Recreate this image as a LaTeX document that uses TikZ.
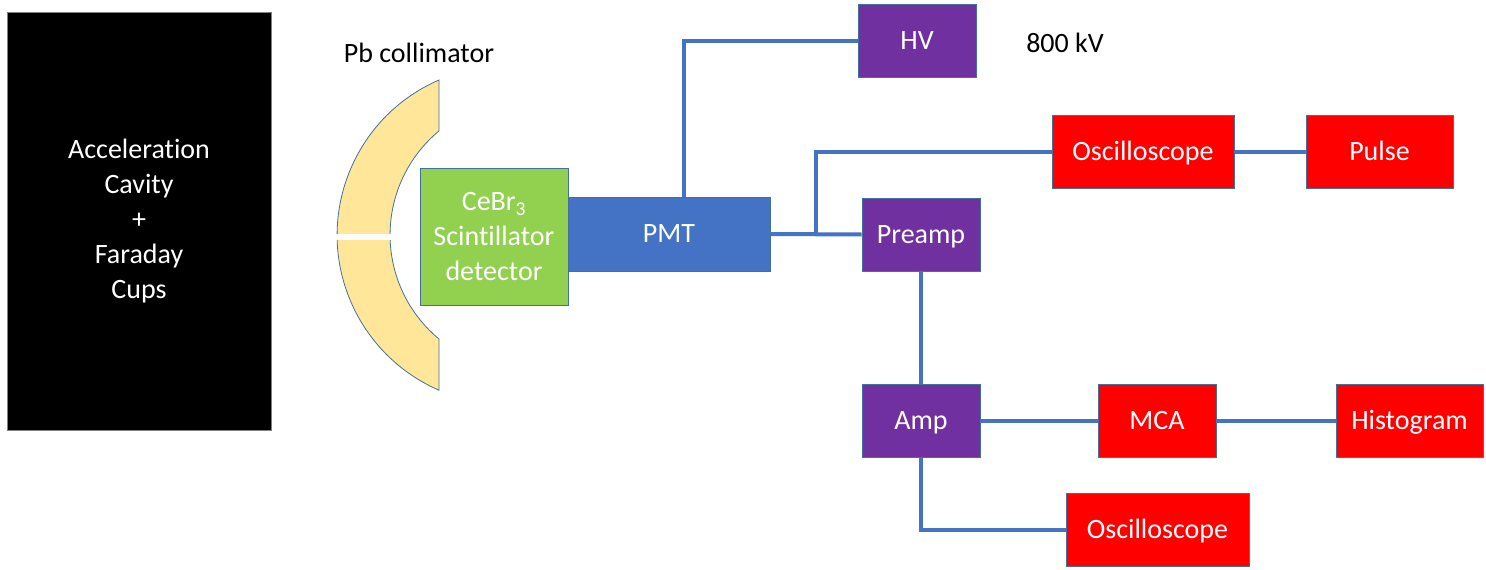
\documentclass[tikz,border=0pt]{standalone}
\usepackage{fontspec}
\setmainfont{Carlito}[Ligatures=NoCommon]
\usetikzlibrary{calc}
\definecolor{wireblue}{HTML}{4472C4}
\definecolor{edgeblue}{HTML}{41719C}
\definecolor{pmtblue}{HTML}{4472C4}
\definecolor{detgreen}{HTML}{92D050}
\definecolor{modpurple}{HTML}{7030A0}
\definecolor{devred}{HTML}{FF0000}
\definecolor{leadyellow}{HTML}{FFE699}

\begin{document}
\begin{tikzpicture}[x=1pt, y=-1pt, font=\fontsize{28}{35}\selectfont,
	box/.style={draw=edgeblue, line width=0.8pt, text=white, inner sep=0pt, align=center},
	oneline/.style={text height=22pt, text depth=5pt},
	wire/.style={draw=wireblue, line width=4pt}]
				\useasboundingbox (0,0) rectangle (1486,570);
				% source
				\node[box, draw=gray, fill=black, minimum width=264pt, minimum height=418pt] (cav) at (139,221)
				{Acceleration\\Cavity\\+\\Faraday\\Cups};
				% lead collimator
				\draw[draw=edgeblue, line width=0.8pt, fill=leadyellow] (439,80)
				arc[start angle=246.6, end angle=113.4, radius=169] -- (439,339)
				arc[start angle=129.6, end angle=230.4, radius=135] -- cycle;
				\draw[white, line width=6pt] (334,237) -- (393,237);
				\node (pb) at (419,53) {Pb collimator};
				% detector chain
				\node[box, fill=detgreen, minimum width=148pt, minimum height=137pt] (det) at (494,237)
				{CeBr\textsubscript{3}\\Scintillator\\detector};
				\node[box, oneline, fill=pmtblue, minimum width=202pt, minimum height=74pt] (pmt) at (669,234) {PMT};
				\foreach \x\y\w\t\n in {917/41/118/HV/hv,921/234.5/118/Preamp/pre,921/420.5/118/Amp/amp}
				\node[box, oneline, fill=modpurple, minimum width=\w pt, minimum height=73pt] (\n) at (\x,\y) {\t};
				\foreach \x\y\w\t\n in {1143/152/182/Oscilloscope/osca,1379.5/152/147/Pulse/pulse,
					1157/420.5/118/MCA/mca,1409.5/420.5/147/Histogram/hist,1157.5/530/183/Oscilloscope/oscb}
				\node[box, oneline, fill=devred, minimum width=\w pt, minimum height=73pt] (\n) at (\x,\y) {\t};
				\node (kv) at (1065,43) {800 kV};
				% wiring
				\coordinate (br) at (816,234);
				\draw[wire] ([xshift=15pt]pmt.north) |- (hv.west);
				\draw[wire] (pmt.east) -- (pre.west);
				\draw[wire] (br) |- (osca.west);
				\draw[wire] (osca.east) -- (pulse.west);
				\draw[wire] (pre.south) -- (amp.north);
				\draw[wire] (amp.east) -- (mca.west);
				\draw[wire] (mca.east) -- (hist.west);
				\draw[wire] (amp.south) |- (oscb.west);
		\end{tikzpicture}
\end{document}
